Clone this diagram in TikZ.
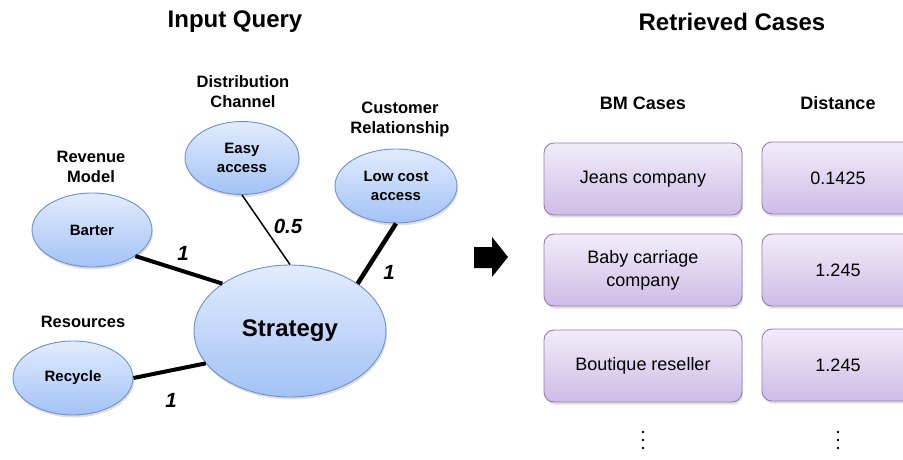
\documentclass[tikz,border=0pt]{standalone}
\usepackage{fontspec}
\setmainfont{Liberation Sans}
\usetikzlibrary{shapes.geometric,shadows}

\definecolor{bubtop}{RGB}{226,236,253}
\definecolor{bubbot}{RGB}{163,194,245}
\definecolor{bubline}{RGB}{104,144,212}
\definecolor{boxtop}{RGB}{241,236,249}
\definecolor{boxbot}{RGB}{206,188,230}
\definecolor{boxline}{RGB}{150,122,184}

\begin{document}
\begin{tikzpicture}[x=1pt, y=-1pt,
        bubble/.style={ellipse, draw=bubline, line width=0.9pt, top color=bubtop, bottom color=bubbot,
            inner sep=0pt, font=\fontsize{15}{19}\selectfont\bfseries, align=center,
            drop shadow={opacity=0.25, shadow xshift=1pt, shadow yshift=-2.5pt}},
        caption/.style={font=\fontsize{16.5}{20}\selectfont\bfseries, align=center},
        weight/.style={font=\fontsize{20.5}{20}\selectfont\bfseries\itshape},
        casebox/.style={rectangle, rounded corners=10pt, draw=boxline, line width=0.9pt,
            top color=boxtop, bottom color=boxbot, minimum height=72pt, align=center,
            font=\fontsize{18}{23}\selectfont,
            drop shadow={opacity=0.25, shadow xshift=1pt, shadow yshift=-2.5pt}},
        header/.style={font=\fontsize{18}{18}\selectfont\bfseries},
        title/.style={font=\fontsize{24}{24}\selectfont\bfseries}]
    \useasboundingbox (0,0) rectangle (903,459);

    % query side
    \node[title] (query) at (235,22) {Input Query};
    \node[bubble, minimum width=192pt, minimum height=132pt, font=\fontsize{24}{24}\selectfont\bfseries]
        (strategy) at (290,331) {Strategy};
    \node[bubble, minimum width=120pt, minimum height=74pt] (barter) at (92,230) {Barter};
    \node[bubble, minimum width=114pt, minimum height=73pt] (easy) at (242,158) {Easy\\access};
    \node[bubble, minimum width=122pt, minimum height=74pt] (lowcost) at (396,186) {Low cost\\access};
    \node[bubble, minimum width=120pt, minimum height=74pt] (recycle) at (73,378) {Recycle};

    \node[caption] (revenue) at (91,167) {Revenue\\Model};
    \node[caption] (channel) at (243,92) {Distribution\\Channel};
    \node[caption] (customer) at (400,119) {Customer\\Relationship};
    \node[caption] (resources) at (83,322) {Resources};

    \draw[line width=4pt] (barter.-31) -- (strategy.145);
    \draw[line width=1.5pt] (easy.south) -- (strategy.north);
    \draw[line width=4.5pt] (lowcost.south) -- (strategy.35);
    \draw[line width=4pt] (recycle.east) -- (strategy.201);

    \node[weight] (w1) at (183,253) {1};
    \node[weight] (w2) at (288,226) {0.5};
    \node[weight] (w3) at (389,272) {1};
    \node[weight] (w4) at (171,400) {1};

    % arrow between the two halves
    \fill (474,247) -- (492,247) -- (492,237) -- (508,257) -- (492,277) -- (492,268) -- (474,268) -- cycle;

    % retrieved side
    \node[title] (retrieved) at (732,22) {Retrieved Cases};
    \node[header] (bmcases) at (643,103) {BM Cases};
    \node[header] (distance) at (838,103) {Distance};

    \node[casebox, minimum width=198pt] (case1) at (643,179) {Jeans company};
    \node[casebox, minimum width=198pt] (case2) at (643,270) {Baby carriage\\company};
    \node[casebox, minimum width=198pt] (case3) at (643,366) {Boutique reseller};
    \node[casebox, minimum width=152pt] (dist1) at (838,178) {0.1425};
    \node[casebox, minimum width=152pt] (dist2) at (838,270) {1.245};
    \node[casebox, minimum width=152pt] (dist3) at (838,365) {1.245};

    \foreach \x in {643,838}
        \foreach \y in {432,440,448}
            \fill (\x,\y) circle (1.3pt);
\end{tikzpicture}
\end{document}
